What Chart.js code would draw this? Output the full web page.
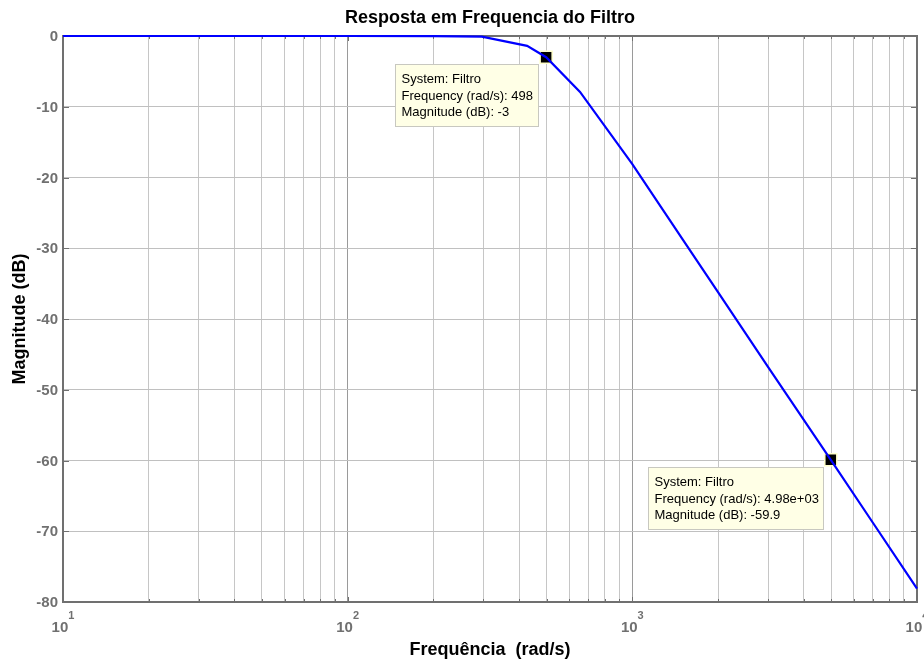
<!DOCTYPE html>
<html lang="pt">
<head>
  <meta charset="UTF-8">
  <title>Resposta em Frequencia do Filtro</title>
  <script src="https://cdn.jsdelivr.net/npm/chart.js@4.4.1/dist/chart.umd.min.js"></script>
  <style>
    html, body { margin: 0; padding: 0; background: #fff; }
    #wrap { width: 924px; height: 659px; position: relative; }
  </style>
</head>
<body>
  <div id="wrap"><canvas id="bode"></canvas></div>
  <script>
    // frequency response (rad/s, dB)
    const freq = [10, 20, 50, 100, 200, 296, 427, 498, 655, 1000, 1500, 2000, 3000, 4980, 7000, 10000];
    const magDb = [0, 0, 0, 0, -0.01, -0.1, -1.4, -3.0, -7.9, -18.1, -28.7, -36.2, -46.8, -59.9, -68.8, -78.1];

    // data tips
    const tipFreq = [498, 4980];
    const tipMag = [-3, -59.9];
    const tipLines = [
      ['System: Filtro', 'Frequency (rad/s): 498', 'Magnitude (dB): -3'],
      ['System: Filtro', 'Frequency (rad/s): 4.98e+03', 'Magnitude (dB): -59.9']
    ];

    // axes
    const xTicks = [10, 20, 30, 40, 50, 60, 70, 80, 90,
                    100, 200, 300, 400, 500, 600, 700, 800, 900,
                    1000, 2000, 3000, 4000, 5000, 6000, 7000, 8000, 9000, 10000];
    const xMajor = [10, 100, 1000, 10000];
    const xMajorExp = ['1', '2', '3', '4'];
    const yTicks = [0, -10, -20, -30, -40, -50, -60, -70, -80];

    const FONT = "'Liberation Sans', Arial, Helvetica, sans-serif";
    const AXIS = '#707070';

    const decorations = {
      id: 'decorations',
      beforeDatasetsDraw(chart) {
        const { ctx, chartArea: a, scales: { x, y } } = chart;
        ctx.save();
        // inner tick marks
        ctx.strokeStyle = AXIS;
        ctx.lineWidth = 1;
        ctx.beginPath();
        xTicks.forEach(v => {
          const px = Math.round(x.getPixelForValue(v)) + 0.5;
          const len = xMajor.includes(v) ? 5 : 3;
          ctx.moveTo(px, a.bottom); ctx.lineTo(px, a.bottom - len);
          ctx.moveTo(px, a.top); ctx.lineTo(px, a.top + len);
        });
        yTicks.forEach(v => {
          const py = Math.round(y.getPixelForValue(v)) + 0.5;
          ctx.moveTo(a.left, py); ctx.lineTo(a.left + 6, py);
          ctx.moveTo(a.right, py); ctx.lineTo(a.right - 6, py);
        });
        ctx.stroke();
        // box
        ctx.lineWidth = 2;
        ctx.strokeRect(a.left, a.top, a.right - a.left, a.bottom - a.top);
        ctx.restore();
      },
      afterDraw(chart) {
        const { ctx, chartArea: a, scales: { x, y } } = chart;
        ctx.save();

        // y tick labels
        ctx.fillStyle = AXIS;
        ctx.font = 'bold 15px ' + FONT;
        ctx.textAlign = 'right';
        ctx.textBaseline = 'middle';
        yTicks.forEach(v => ctx.fillText(String(v), a.left - 5, y.getPixelForValue(v) + 1));

        // x tick labels with exponents
        xMajor.forEach((v, i) => {
          const px = x.getPixelForValue(v);
          ctx.font = 'bold 15px ' + FONT;
          const wb = ctx.measureText('10').width;
          ctx.font = 'bold 11px ' + FONT;
          const we = ctx.measureText(xMajorExp[i]).width;
          const left = px - (wb + we) / 2;
          ctx.textAlign = 'left';
          ctx.textBaseline = 'alphabetic';
          ctx.font = 'bold 15px ' + FONT;
          ctx.fillText('10', left, 632);
          ctx.font = 'bold 11px ' + FONT;
          ctx.fillText(xMajorExp[i], left + wb, 619);
        });

        // titles
        ctx.fillStyle = '#000';
        ctx.font = 'bold 18px ' + FONT;
        ctx.textAlign = 'center';
        ctx.textBaseline = 'alphabetic';
        ctx.fillText('Resposta em Frequencia do Filtro', (a.left + a.right) / 2, 23);
        ctx.fillText('Frequência  (rad/s)', (a.left + a.right) / 2, 655);
        ctx.save();
        ctx.translate(25, (a.top + a.bottom) / 2);
        ctx.rotate(-Math.PI / 2);
        ctx.fillText('Magnitude (dB)', 0, 0);
        ctx.restore();

        // data tips
        const pts = chart.getDatasetMeta(1).data;
        ctx.font = '13px ' + FONT;
        tipLines.forEach((lines, i) => {
          const p = pts[i];
          const w = Math.round(Math.max(...lines.map(s => ctx.measureText(s).width)) + 11);
          const h = 62;
          const bx = Math.round(p.x - 8 - w) + 0.5;
          const by = Math.round(p.y + 7) + 0.5;
          ctx.fillStyle = '#ffffe6';
          ctx.fillRect(bx, by, w, h);
          ctx.strokeStyle = '#c8c8c0';
          ctx.lineWidth = 1;
          ctx.strokeRect(bx, by, w, h);
          ctx.fillStyle = '#000';
          ctx.textAlign = 'left';
          ctx.textBaseline = 'middle';
          lines.forEach((s, j) => ctx.fillText(s, bx + 6, by + 15 + j * 16.5));
        });

        ctx.restore();
      }
    };

    new Chart(document.getElementById('bode'), {
      type: 'line',
      data: {
        datasets: [
          {
            data: freq.map((f, i) => ({ x: f, y: magDb[i] })),
            borderColor: '#0000ff',
            borderWidth: 2.2,
            pointRadius: 0,
            tension: 0,
            clip: 4
          },
          {
            data: tipFreq.map((f, i) => ({ x: f, y: tipMag[i] })),
            showLine: false,
            pointStyle: 'rect',
            pointRadius: 8.5,
            backgroundColor: '#000',
            borderColor: '#ffffcc',
            borderWidth: 1.5,
            clip: 10
          }
        ]
      },
      options: {
        responsive: true,
        maintainAspectRatio: false,
        animation: false,
        layout: { autoPadding: false, padding: { left: 63, right: 7, top: 36, bottom: 57 } },
        plugins: { legend: { display: false }, tooltip: { enabled: false }, title: { display: false } },
        scales: {
          x: {
            type: 'logarithmic',
            min: 10,
            max: 10000,
            afterBuildTicks: s => { s.ticks = xTicks.map(v => ({ value: v })); },
            ticks: { display: false },
            border: { display: false },
            grid: {
              drawTicks: false,
              color: c => xMajor.includes(c.tick && c.tick.value) ? '#9a9a9a' : '#c6c6c6',
              lineWidth: 1
            }
          },
          y: {
            type: 'linear',
            min: -80,
            max: 0,
            afterBuildTicks: s => { s.ticks = yTicks.map(v => ({ value: v })); },
            ticks: { display: false },
            border: { display: false },
            grid: { drawTicks: false, color: '#c0c0c0', lineWidth: 1 }
          }
        }
      },
      plugins: [decorations]
    });
  </script>
</body>
</html>
